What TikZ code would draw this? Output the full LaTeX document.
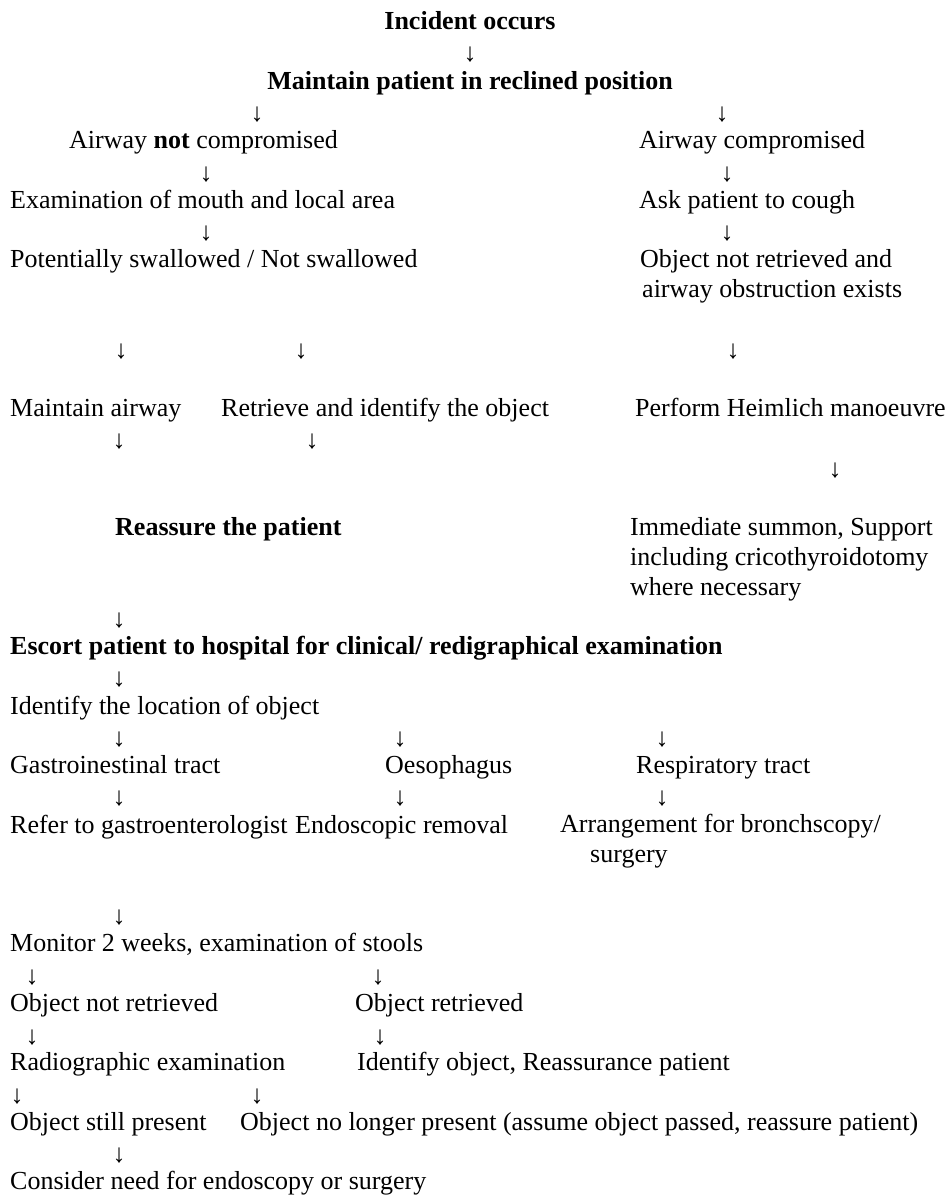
\documentclass[tikz,border=0pt]{standalone}
\usepackage{fontspec}
\setmainfont{Liberation Serif}
\usepackage{tikz}
\usetikzlibrary{positioning}

\begin{document}
\begin{tikzpicture}[x=1pt,y=-1pt,
    every node/.style={inner sep=0pt, font=\fontsize{26}{29.74}\selectfont},
    txt/.style={anchor=base west, align=left},
    hd/.style={anchor=base, font=\fontsize{26}{29.74}\selectfont\bfseries},
    bd/.style={txt, font=\fontsize{26}{29.74}\selectfont\bfseries},
    dn/.style={anchor=center}]
        \useasboundingbox (0,0) rectangle (946,1198);
        % top
        \node[hd] (inc) at (470,30) {Incident occurs};
        \node[dn] (a0) at (470,55) {↓};
        \node[hd] (recl) at (470,89.5) {Maintain patient in reclined position};
        \node[dn] (a1) at (257,115) {↓};
        \node[dn] (a2) at (722,115) {↓};
        % left branch
        \node[txt] (notc) at (69,149) {Airway \textbf{not} compromised};
        \node[dn] (a3) at (206,175) {↓};
        \node[txt] (exam) at (10,208.4) {Examination of mouth and local area};
        \node[dn] (a4) at (206,234) {↓};
        \node[txt] (swal) at (10,267.9) {Potentially swallowed / Not swallowed};
        \node[dn] (a5) at (121,352) {↓};
        \node[dn] (a6) at (301,352) {↓};
        \node[txt] (mair) at (10,416.6) {Maintain airway};
        \node[txt] (retr) at (221,416.6) {Retrieve and identify the object};
        \node[dn] (a7) at (119,442) {↓};
        \node[dn] (a8) at (312,442) {↓};
        \node[bd] (reas) at (115,535.6) {Reassure the patient};
        % right branch
        \node[txt] (comp) at (639,149) {Airway compromised};
        \node[dn] (a9) at (727,175) {↓};
        \node[txt] (coug) at (639,208.4) {Ask patient to cough};
        \node[dn] (a10) at (727,234) {↓};
        \node[txt] (obst) at (640,297.7) {Object not retrieved and\\\hspace{2pt}airway obstruction exists};
        \node[dn] (a11) at (733,352) {↓};
        \node[txt] (heim) at (635,416.6) {Perform Heimlich manoeuvre};
        \node[dn] (a12) at (835,471) {↓};
        \node[txt] (summ) at (630,595.1) {Immediate summon, Support\\including cricothyroidotomy\\where necessary};
        % hospital
        \node[dn] (a13) at (119,621) {↓};
        \node[bd] (esc) at (10,654.5) {Escort patient to hospital for clinical/ redigraphical examination};
        \node[dn] (a14) at (119,680) {↓};
        \node[txt] (loc) at (10,714) {Identify the location of object};
        \node[dn] (a15) at (119,740) {↓};
        \node[dn] (a16) at (400,740) {↓};
        \node[dn] (a17) at (662,740) {↓};
        \node[txt] (gi) at (10,773.5) {Gastroinestinal tract};
        \node[txt] (oes) at (385,773.5) {Oesophagus};
        \node[txt] (resp) at (636,773.5) {Respiratory tract};
        \node[dn] (a18) at (119,799) {↓};
        \node[dn] (a19) at (400,799) {↓};
        \node[dn] (a20) at (662,799) {↓};
        \node[txt] (gast) at (10,833) {Refer to gastroenterologist};
        \node[txt] (endo) at (295,833) {Endoscopic removal};
        \node[txt] (bron) at (560,862.7) {Arrangement for bronchscopy/\\\hspace{30pt}surgery};
        % follow-up
        \node[dn] (a21) at (119,918) {↓};
        \node[txt] (mon) at (10,951.9) {Monitor 2 weeks, examination of stools};
        \node[dn] (a22) at (32,978) {↓};
        \node[dn] (a23) at (378,978) {↓};
        \node[txt] (nret) at (10,1011.4) {Object not retrieved};
        \node[txt] (ret) at (355,1011.4) {Object retrieved};
        \node[dn] (a24) at (32,1038) {↓};
        \node[dn] (a25) at (380,1038) {↓};
        \node[txt] (radi) at (10,1070.9) {Radiographic examination};
        \node[txt] (idob) at (357,1070.9) {Identify object, Reassurance patient};
        \node[dn] (a26) at (17,1097) {↓};
        \node[dn] (a27) at (257,1097) {↓};
        \node[txt] (still) at (10,1130.4) {Object still present};
        \node[txt] (gone) at (240,1130.4) {Object no longer present (assume object passed, reassure patient)};
        \node[dn] (a28) at (119,1156) {↓};
        \node[txt] (cons) at (10,1189.9) {Consider need for endoscopy or surgery};
      \end{tikzpicture}
\end{document}
